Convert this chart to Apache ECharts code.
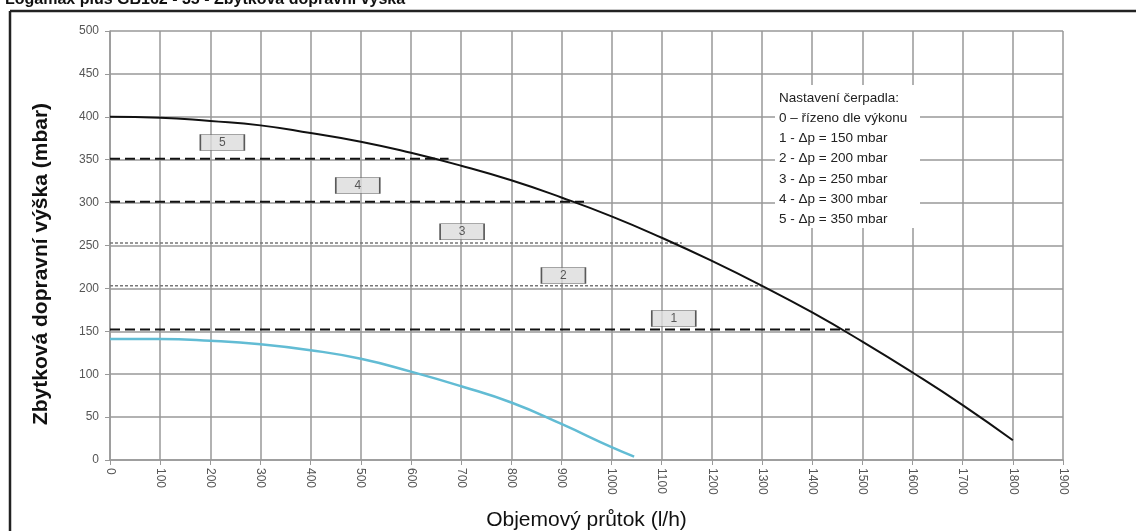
<!DOCTYPE html>
<html><head><meta charset="utf-8">
<script src="https://cdn.jsdelivr.net/npm/echarts@6/dist/echarts.min.js"></script>
<style>html,body{margin:0;padding:0;background:#fff}#c{width:1136px;height:531px}</style>
</head><body><div id="c"></div>
<script>
const flowCats = [0,100,200,300,400,500,600,700,800,900,1000,1100,1200,1300,1400,1500,1600,1700,1800];
const curve0 = [400,399,395,390,381,371,358,343,326,306,284,259,232,203,172,138,102,64,23];
const blueFlow = [0,100,200,300,400,500,600,700,800,900,1000,1045];
const blueHead = [141,141,139,135,128,118,103,86,67,42,15,4];
const levelNames = ['1','2','3','4','5'];
const levelHeads = [152,203,253,301,351];
const levelEnds = [1475,1300,1140,945,675];
const levelDashed = [true,false,false,true,true];
const boxX = [1124,904,702,494,224];
const boxY = [165,215,266,320,370];
const legendLines = ['Nastavení čerpadla:','0 – řízeno dle výkonu','1 - Δp = 150 mbar','2 - Δp = 200 mbar','3 - Δp = 250 mbar','4 - Δp = 300 mbar','5 - Δp = 350 mbar'];

const chart = echarts.init(document.getElementById('c'));
const series = [];
series.push({type:'line',smooth:true,symbol:'none',data:flowCats.map((x,i)=>[x,curve0[i]]),
  lineStyle:{color:'#111',width:2},z:5});
series.push({type:'line',smooth:0.5,symbol:'none',data:blueFlow.map((x,i)=>[x,blueHead[i]]),
  lineStyle:{color:'#62bcd4',width:2.5},z:5});
levelHeads.forEach((h,i)=>{
  series.push({type:'line',symbol:'none',data:[[0,h],[levelEnds[i],h]],
    lineStyle: levelDashed[i] ? {color:'#111',width:2,type:[10,5]} : {color:'#777',width:1.5,type:[3,2]},z:4});
});
series.push({type:'scatter',symbol:'rect',symbolSize:[44,16],
  data:boxX.map((x,i)=>[x,boxY[i],levelNames[i]]),
  itemStyle:{color:'#dcdcdc',borderColor:'#333',borderWidth:1},
  label:{show:true,position:'inside',formatter:p=>p.data[2],color:'#333',fontSize:12,fontFamily:'Liberation Sans'},z:6});

chart.setOption({
  animation:false,
  grid:{left:110,right:73,top:31,bottom:71,containLabel:false,outerBoundsMode:'none'},
  xAxis:{type:'value',min:0,max:1900,interval:100,
    name:'Objemový průtok (l/h)',nameLocation:'middle',nameGap:50,
    nameTextStyle:{fontSize:21,color:'#111',fontFamily:'Liberation Sans'},
    axisLine:{lineStyle:{color:'#999',width:1.5}},
    axisTick:{show:true,length:5,lineStyle:{color:'#999'}},
    axisLabel:{rotate:-90,color:'#555',fontSize:12,margin:8,fontFamily:'Liberation Sans',formatter:v=>String(v)},
    splitLine:{show:true,lineStyle:{color:'#999',width:1.5}}},
  yAxis:{type:'value',min:0,max:500,interval:50,
    axisLine:{show:true,lineStyle:{color:'#999',width:1.5}},
    axisTick:{show:true,length:5,lineStyle:{color:'#999'}},
    axisLabel:{color:'#555',fontSize:12,margin:11,fontFamily:'Liberation Sans'},
    splitLine:{show:true,lineStyle:{color:'#999',width:1.5}}},
  graphic:[
    {type:'text',left:5,top:-8,style:{text:'Logamax plus GB162 - 35 - Zbytková dopravní výška',font:'bold 16px Liberation Sans',fill:'#111'}},
    {type:'line',shape:{x1:10,y1:11,x2:1136,y2:11},style:{stroke:'#222',lineWidth:2.5}},
    {type:'line',shape:{x1:10,y1:11,x2:10,y2:531},style:{stroke:'#222',lineWidth:2.5}},
    {type:'text',x:41,y:264,rotation:Math.PI/2,style:{text:'Zbytková dopravní výška (mbar)',font:'bold 21px Liberation Sans',fill:'#111',align:'center',verticalAlign:'middle'}},
    {type:'rect',shape:{x:775,y:85,width:145,height:143},style:{fill:'#fff'},z:10},
    {type:'text',left:779,top:88,z:11,style:{text:legendLines.join('\n'),font:'13.5px Liberation Sans',lineHeight:20.2,fill:'#222'}}
  ],
  series:series
});
</script></body></html>
